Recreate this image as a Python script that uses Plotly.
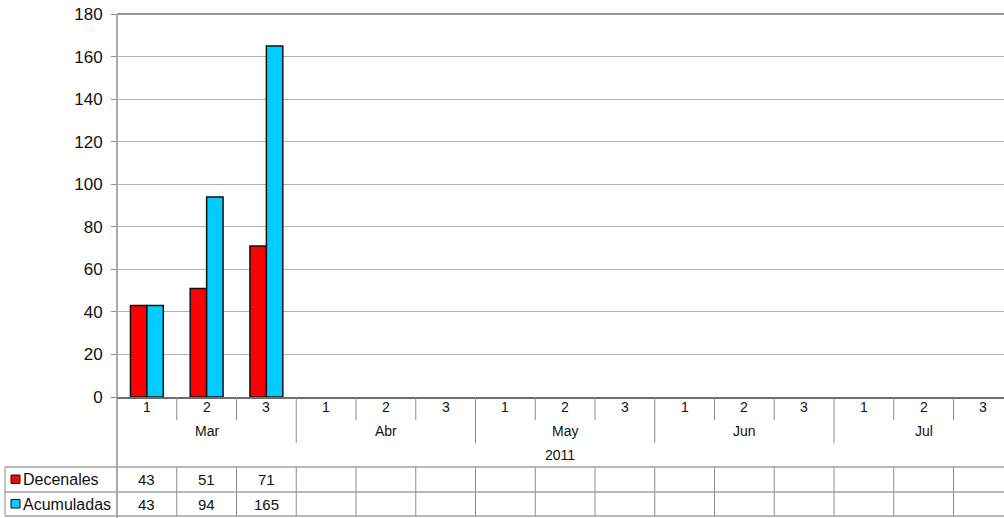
import plotly.graph_objects as go

# ---- data ----
decades = ["1", "2", "3"] * 5
months = ["Mar", "Abr", "May", "Jun", "Jul"]
year = "2011"
series_names = ["Decenales", "Acumuladas"]
decenales = [43, 51, 71] + [None] * 12
acumuladas = [43, 94, 165] + [None] * 12
y_ticks = list(range(0, 181, 20))

colors = ["#FF0000", "#00CCFF"]

W, H = 1004, 518
L, T, B = 117, 14, 121
plot_w = W - L
plot_h = H - T - B
cat_w = 59.75
x_max = -0.5 + plot_w / cat_w

def py(p):
    return (H - B - p) / plot_h

def pxp(p):
    return (p - L) / plot_w

xs = list(range(len(decades)))

fig = go.Figure()
for name, vals, col in zip(series_names, [decenales, acumuladas], colors):
    fig.add_trace(go.Bar(x=xs, y=vals, name=name, marker=dict(color=col, line=dict(color="#111111", width=1.5)),
                         showlegend=False))

shapes = []
annots = []
line_c = "#8C8C8C"

# left axis line extending through table
shapes.append(dict(type="line", xref="paper", yref="paper", x0=0, x1=0, y0=1, y1=py(H),
                   line=dict(color=line_c, width=1.5)))
# top line (darker)
shapes.append(dict(type="line", xref="paper", yref="paper", x0=0, x1=1, y0=1, y1=1,
                   line=dict(color="#999999", width=2)))

# category separators
for k in range(1, len(decades) + 1):
    xb = k - 0.5
    y_end = 443 if k % 3 == 0 else 420
    shapes.append(dict(type="line", xref="x", yref="paper", x0=xb, x1=xb, y0=py(397), y1=py(y_end),
                       line=dict(color=line_c, width=1)))
    # table verticals
    shapes.append(dict(type="line", xref="x", yref="paper", x0=xb, x1=xb, y0=py(467), y1=py(516),
                       line=dict(color=line_c, width=1)))

# table horizontals
for yy in [467, 492, 516]:
    shapes.append(dict(type="line", xref="paper", yref="paper", x0=pxp(5), x1=1, y0=py(yy), y1=py(yy),
                       line=dict(color="#A0A0A0", width=1.5)))
# table left border
shapes.append(dict(type="line", xref="paper", yref="paper", x0=pxp(5), x1=pxp(5), y0=py(467), y1=py(516),
                   line=dict(color=line_c, width=1)))

font = "Liberation Sans, Arial, sans-serif"
txt_c = "#111111"

# decade labels
for i, d in enumerate(decades):
    annots.append(dict(x=i, y=py(407), xref="x", yref="paper", text=d, showarrow=False,
                       font=dict(family=font, size=14, color=txt_c), xanchor="center", yanchor="middle"))
# month labels
for j, m in enumerate(months):
    annots.append(dict(x=3 * j + 1, y=py(431), xref="x", yref="paper", text=m, showarrow=False,
                       font=dict(family=font, size=14, color=txt_c), xanchor="center", yanchor="middle"))
# year label
annots.append(dict(x=pxp(560), y=py(455), xref="paper", yref="paper", text=year, showarrow=False,
                   font=dict(family=font, size=14, color=txt_c), xanchor="center", yanchor="middle"))

# table rows
row_y = [479.5, 504]
for name, vals, col, ry in zip(series_names, [decenales, acumuladas], colors, row_y):
    shapes.append(dict(type="rect", xref="paper", yref="paper", x0=pxp(11), x1=pxp(20),
                       y0=py(ry - 4.5), y1=py(ry + 4), fillcolor=col, line=dict(color="#111111", width=1)))
    annots.append(dict(x=pxp(20.5), y=py(ry), xref="paper", yref="paper", text=name, showarrow=False,
                       font=dict(family=font, size=16, color=txt_c), xanchor="left", yanchor="middle"))
    for i, v in enumerate(vals):
        if v is not None:
            annots.append(dict(x=i, y=py(ry), xref="x", yref="paper", text=str(v), showarrow=False,
                               font=dict(family=font, size=15, color=txt_c),
                               xanchor="center", yanchor="middle"))

fig.update_layout(
    width=W, height=H,
    margin=dict(l=L, r=0, t=T, b=B, pad=0),
    paper_bgcolor="white", plot_bgcolor="white",
    barmode="group", bargap=0.45, bargroupgap=0,
    shapes=shapes, annotations=annots,
    font=dict(family=font, color=txt_c),
    xaxis=dict(range=[-0.5, x_max], showticklabels=False, ticks="", showgrid=False, zeroline=False,
               showline=True, linecolor="#6E6E6E", linewidth=1.5, fixedrange=True),
    yaxis=dict(range=[0, 180], tickvals=y_ticks, ticks="outside", ticklen=5, tickcolor=line_c,
               tickfont=dict(family=font, size=17, color=txt_c), ticklabelstandoff=5,
               showgrid=True, gridcolor="#B4B4B4", gridwidth=1, zeroline=False,
               showline=False, fixedrange=True),
)

fig.write_html("out.html")
